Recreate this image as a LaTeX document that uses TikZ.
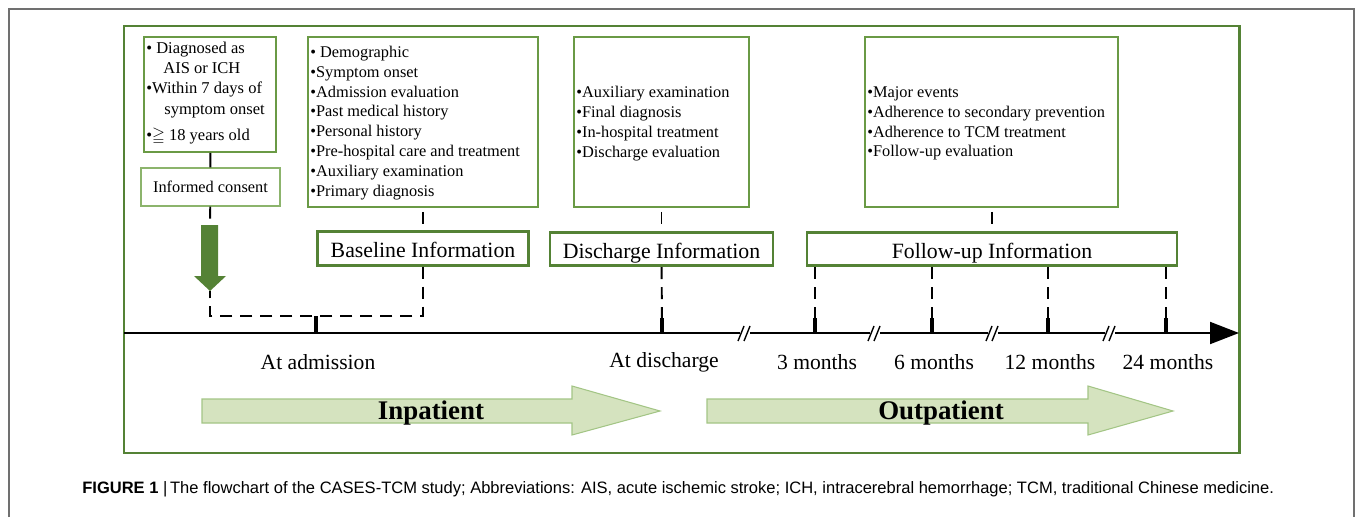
\documentclass[tikz,border=0pt]{standalone}
\usepackage{fontspec}
\usepackage{amssymb}
\setmainfont{Liberation Serif}
\newfontfamily\capfont{Liberation Sans}
\usetikzlibrary{arrows.meta}

\definecolor{framegreen}{HTML}{548235}
\definecolor{boxgreen}{HTML}{6A9A45}
\definecolor{lightgreen}{HTML}{8CB46C}
\definecolor{arrowfill}{HTML}{D5E3BF}
\definecolor{arrowdraw}{HTML}{A3C585}
\definecolor{outergray}{HTML}{707070}

\tikzset{
  detailbox/.style={draw=boxgreen, line width=0.9pt, inner sep=0pt},
  detailtext/.style={anchor=west, align=left, inner sep=0pt, font=\fontsize{9.3}{11.3}\selectfont},
  titlebox/.style={draw=framegreen, line width=1.6pt, inner sep=0pt, minimum height=0.67cm,
    text height=11pt, text depth=0.4pt, font=\fontsize{12.4}{14}\selectfont},
  dashline/.style={line width=1.1pt, dash pattern=on 0.24cm off 0.16cm},
  shortdash/.style={dashline, dash phase=0.32cm},
  tickline/.style={line width=1.8pt},
  timelabel/.style={font=\fontsize{12.3}{14}\selectfont},
  phase/.style={fill=arrowfill, draw=arrowdraw, line width=0.6pt},
  phaselabel/.style={font=\bfseries\fontsize{15.3}{18}\selectfont},
}

\begin{document}
\begin{tikzpicture}[x=0.02cm, y=-0.02cm]
    \useasboundingbox (0,0) rectangle (1355,517);

    % Page frame and caption
    \draw[outergray, line width=0.7pt] (9,517) -- (9,9) -- (1354,9) -- (1354,517);
    \node[anchor=west, inner sep=0pt, font=\capfont\fontsize{9.4}{11}\selectfont] (caption) at (82,489)
        {\textbf{FIGURE 1} |\,The flowchart of the CASES-TCM study; Abbreviations: AIS, acute ischemic stroke; ICH, intracerebral hemorrhage; TCM, traditional Chinese medicine.};

    % Green frame
    \draw[framegreen, line width=1.7pt] (124,26) rectangle (1239,453);

    % Inclusion and consent
    \node[detailbox, minimum width=2.64cm, minimum height=2.30cm] (crit) at (210,94.5) {};
    \node[detailtext, font=\fontsize{9.4}{11.6}\selectfont] (crittext) at (146,93)
        {\textbullet\ Diagnosed as\\\hspace*{0.34cm}AIS or ICH\\\textbullet Within 7 days of\\\hspace*{0.36cm}symptom onset\\[3pt]\textbullet$\geqq$ 18 years old};
    \node[draw=lightgreen, line width=0.6pt, minimum width=2.78cm, minimum height=0.76cm,
        font=\fontsize{9.3}{11}\selectfont] (consent) at (210.5,187) {Informed consent};

    % Detail boxes
    \node[detailbox, minimum width=4.60cm, minimum height=3.40cm] (demo) at (423,122) {};
    \node[detailtext] (demotext) at (310,123)
        {\textbullet\ Demographic\\\textbullet Symptom onset\\\textbullet Admission evaluation\\\textbullet Past medical history\\\textbullet Personal history\\\textbullet Pre-hospital care and treatment\\\textbullet Auxiliary examination\\\textbullet Primary diagnosis};

    \node[detailbox, minimum width=3.50cm, minimum height=3.40cm] (disc) at (661.5,122) {};
    \node[detailtext] (disctext) at (576,123.5)
        {\textbullet Auxiliary examination\\\textbullet Final diagnosis\\\textbullet In-hospital treatment\\\textbullet Discharge evaluation};

    \node[detailbox, minimum width=5.06cm, minimum height=3.40cm] (fup) at (991.5,122) {};
    \node[detailtext] (fuptext) at (867,123.5)
        {\textbullet Major events\\\textbullet Adherence to secondary prevention\\\textbullet Adherence to TCM treatment\\\textbullet Follow-up evaluation};

    % Information titles
    \node[titlebox, minimum width=4.22cm] (baseline) at (423,248.5) {Baseline Information};
    \node[titlebox, minimum width=4.46cm] (dischinfo) at (661.5,249) {Discharge Information};
    \node[titlebox, minimum width=7.40cm] (fupinfo) at (992,249) {Follow-up Information};

    % Down arrow
    \coordinate (darrtop) at (210,225);
    \coordinate (darrtip) at (210,291);
    \fill[framegreen] (201,225) -- (218,225) -- (218,276) -- (226,276) -- (darrtip) -- (194,276) -- (201,276) -- cycle;

    % Timeline
    \coordinate (axisstart) at (124,333);
    \coordinate (axisend) at (1239,333);
    \draw[line width=1.1pt, -{Triangle[length=0.58cm, width=0.44cm]}] (axisstart) -- (axisend);

    \foreach \name/\x/\lab in {adm/316/At admission, dis/662/At discharge, m3/815/3 months,
                               m6/932/6 months, m12/1048/12 months, m24/1166/24 months} {
        \coordinate (t\name) at (\x,333);
        \draw[tickline] (\x,318) -- (t\name);
        \node[timelabel] (l\name) at (\x+2,362) {\lab};
    }

    % Breaks
    \foreach \b in {745,875,993,1110} {
        \fill[white] (\b-5,329) rectangle (\b+5,337);
        \draw[line width=0.8pt] (\b-7,341) -- (\b-1,326) (\b-1,341) -- (\b+5,326);
    }

    % Connectors
    \draw[line width=1.1pt] (crit) -- (consent);
    \draw[dashline] (consent) -- (darrtop);
    \draw[shortdash] (demo) -- (baseline);
    \coordinate (admjoin) at (316,316);
    \draw[dashline] (baseline.south) |- (admjoin) -| (darrtip);
    \draw[tickline] (admjoin) -- (tadm);
    \draw[shortdash] (disc) -- (dischinfo);
    \draw[dashline] (dischinfo) -- (tdis);
    \draw[shortdash] (fup.south -| fupinfo) -- (fupinfo);
    \foreach \t in {m3,m6,m12,m24}
        \draw[dashline] (fupinfo.south -| t\t) -- (t\t);

    % Phases
    \draw[phase] (202,399) -- (572,399) -- (572,386) -- (660,411) -- (572,435) -- (572,423) -- (202,423) -- cycle;
    \node[phaselabel] (inpat) at (431,413) {Inpatient};
    \draw[phase] (707,399) -- (1088,399) -- (1088,386) -- (1173,411) -- (1088,435) -- (1088,423) -- (707,423) -- cycle;
    \node[phaselabel] (outpat) at (941,413) {Outpatient};
\end{tikzpicture}
\end{document}
